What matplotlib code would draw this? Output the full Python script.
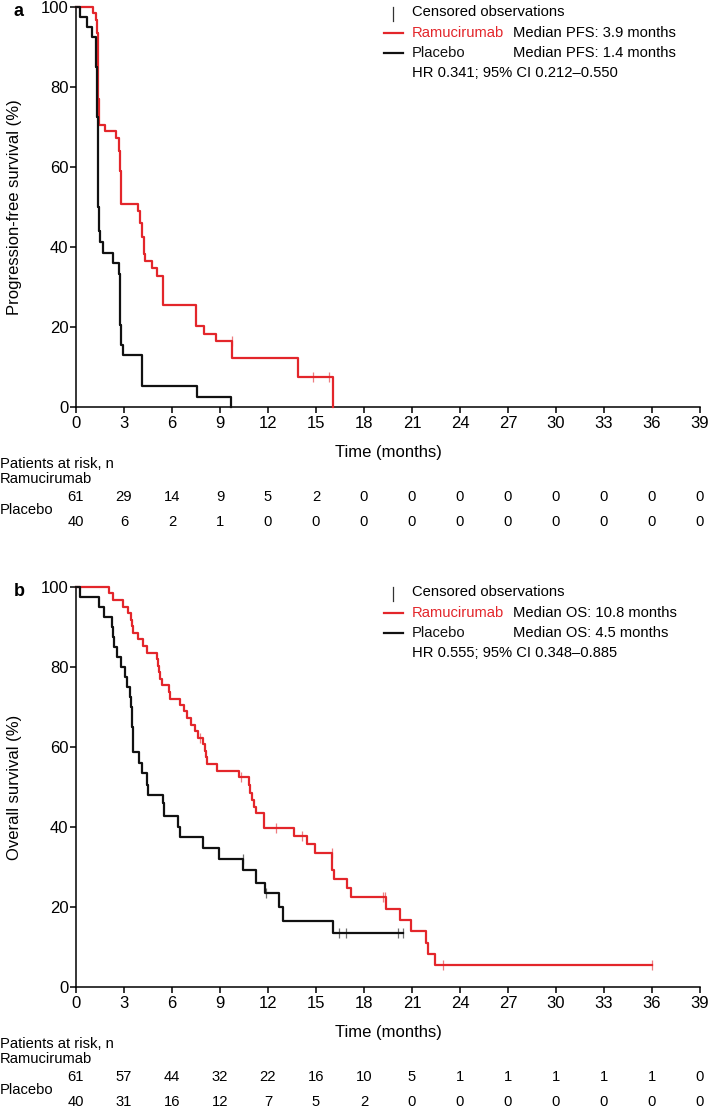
import matplotlib
matplotlib.use("Agg")
import matplotlib.pyplot as plt
from matplotlib.lines import Line2D

plt.rcParams["font.family"] = ["Liberation Sans", "DejaVu Sans"]

RED = "#e3262b"
BLACK = "#111111"

# ---- panel a: progression-free survival ----
pfs_ram_t = [0, 1.04, 1.26, 1.3, 1.35, 1.4, 1.45, 1.84, 2.51, 2.68, 2.74, 2.79, 3.87, 4.0, 4.13,
             4.23, 4.33, 4.77, 5.06, 5.44, 7.53, 7.99, 8.72, 9.78, 13.86, 16.05]
pfs_ram_s = [100, 98.4, 96.7, 93.4, 85.2, 77.0, 70.5, 68.9, 67.2, 63.9, 59.0, 50.8, 49.0, 45.9, 42.6,
             38.2, 36.5, 34.8, 32.8, 25.6, 20.2, 18.3, 16.4, 12.3, 7.4, 0]
pfs_ram_cens_t = [9.72, 14.84, 15.82]
pfs_ram_cens_s = [16.4, 7.4, 7.4]

pfs_pla_t = [0, 0.25, 0.7, 0.97, 1.22, 1.28, 1.31, 1.33, 1.35, 1.37, 1.39, 1.41, 1.5, 1.7, 2.31,
             2.66, 2.72, 2.78, 2.83, 2.93, 4.1, 7.59, 9.68]
pfs_pla_s = [100, 97.5, 95, 92.5, 90, 85, 80, 72.5, 65, 57.5, 50, 44.1, 41.3, 38.6, 36.0,
             33.3, 28, 20.5, 15.6, 13.0, 5.2, 2.6, 0]

# ---- panel b: overall survival ----
os_ram_t = [0, 2.08, 2.33, 2.92, 3.23, 3.42, 3.48, 3.58, 3.9, 4.17, 4.42, 5.08, 5.12, 5.17, 5.25,
            5.35, 5.79, 5.9, 6.52, 6.73, 6.94, 7.2, 7.44, 7.65, 7.96, 8.06, 8.1, 8.21, 8.83, 10.21,
            10.8, 10.85, 10.98, 11.13, 11.25, 11.77, 13.63, 14.46, 14.94, 15.98, 16.03, 16.15, 16.92,
            17.2, 19.35, 20.25, 20.92, 21.9, 21.98, 22.46, 36.0]
os_ram_s = [100, 98.4, 96.7, 95.1, 93.4, 91.8, 90.2, 88.5, 86.9, 85.2, 83.6, 82.0, 80.3, 78.7, 77.0,
            75.4, 73.8, 72.1, 70.5, 68.9, 67.2, 65.6, 63.9, 62.3, 60.7, 59.0, 57.4, 55.7, 54.1, 52.4,
            50.4, 48.4, 46.7, 45.1, 43.4, 39.7, 37.8, 35.7, 33.6, 31.6, 29.3, 26.9, 24.7,
            22.4, 19.6, 16.8, 13.9, 11.1, 8.3, 5.5, 5.5]
os_ram_cens_t = [7.75, 10.29, 12.5, 14.1, 15.98, 19.2, 19.3, 22.92, 36.0]
os_ram_cens_s = [62.3, 52.4, 39.7, 37.8, 33.6, 22.4, 22.4, 5.5, 5.5]

os_pla_t = [0, 0.25, 1.44, 1.77, 2.23, 2.33, 2.4, 2.54, 2.79, 3.06, 3.17, 3.375, 3.44, 3.47, 3.5,
            3.55, 3.58, 3.96, 4.15, 4.42, 4.5, 5.42, 5.52, 6.4, 6.5, 7.96, 8.96, 10.45, 11.25,
            11.81, 12.71, 12.92, 16.04, 20.46]
os_pla_s = [100, 97.5, 95, 92.5, 90, 87.5, 85, 82.5, 80, 77.5, 75, 72.5, 70, 67.5, 65,
            62.5, 58.8, 55.9, 53.4, 50.5, 48.0, 45.9, 42.75, 40.1, 37.4, 34.7, 31.9, 29.25, 26.1,
            23.4, 20.1, 16.6, 13.4, 13.4]
os_pla_cens_t = [10.42, 11.9, 16.46, 16.9, 20.1, 20.46]
os_pla_cens_s = [31.9, 23.4, 13.4, 13.4, 13.4, 13.4]

x_ticks = list(range(0, 40, 3))
pfs_risk_ram = [61, 29, 14, 9, 5, 2, 0, 0, 0, 0, 0, 0, 0, 0]
pfs_risk_pla = [40, 6, 2, 1, 0, 0, 0, 0, 0, 0, 0, 0, 0, 0]
os_risk_ram = [61, 57, 44, 32, 22, 16, 10, 5, 1, 1, 1, 1, 1, 0]
os_risk_pla = [40, 31, 16, 12, 7, 5, 2, 0, 0, 0, 0, 0, 0, 0]

W, H = 709, 1110
fig = plt.figure(figsize=(W / 100, H / 100), dpi=100)

AX_FS = 12
SMALL_FS = 10.6


def fx(px):
    return px / W


def fy(py):
    return 1 - py / H


def pt(px):
    return px * 0.72


def draw_panel(top, letter, ylabel, curves, risk_ram, risk_pla, endpoint, medians, hr):
    bottom = top + 400
    ax = fig.add_axes([fx(76), fy(bottom), fx(700) - fx(76), (bottom - top) / H])
    for t, s, ct, cs, col in curves:
        ax.step(t, s, where="post", color=col, lw=1.6, clip_on=False, zorder=3)
        ax.plot(ct, cs, ls="none", marker="|", ms=7, mew=0.9, color=col, alpha=0.6,
                clip_on=False, zorder=4)
    ax.set_xlim(0, 39)
    ax.set_ylim(0, 100)
    ax.set_xticks(x_ticks)
    ax.set_yticks(range(0, 101, 20))
    for side in ("top", "right"):
        ax.spines[side].set_visible(False)
    for side in ("left", "bottom"):
        ax.spines[side].set_linewidth(1.1)
    ax.tick_params(direction="out", length=4, width=1.1, labelsize=AX_FS)
    ax.tick_params(axis="x", pad=2.5)
    ax.tick_params(axis="y", pad=1.5)
    ax.set_ylabel(ylabel, fontsize=AX_FS)
    ax.yaxis.set_label_coords(-54 / 624, 0.5)

    tr = ("data", "axes fraction")
    ax.annotate("Time (months)", xy=(19.5, 0), xycoords=tr, xytext=(0, -pt(45)),
                textcoords="offset points", ha="center", va="center", fontsize=AX_FS)
    for x, a, b in zip(x_ticks, risk_ram, risk_pla):
        ax.annotate(str(a), xy=(x, 0), xycoords=tr, xytext=(0, -pt(90)),
                    textcoords="offset points", ha="center", va="center", fontsize=SMALL_FS)
        ax.annotate(str(b), xy=(x, 0), xycoords=tr, xytext=(0, -pt(115)),
                    textcoords="offset points", ha="center", va="center", fontsize=SMALL_FS)
    fig.text(fx(0), fy(bottom + 57), "Patients at risk, n", ha="left", va="center",
             fontsize=SMALL_FS)
    fig.text(fx(0), fy(bottom + 72), "Ramucirumab", ha="left", va="center", fontsize=SMALL_FS)
    fig.text(fx(0), fy(bottom + 103), "Placebo", ha="left", va="center", fontsize=SMALL_FS)

    fig.text(fx(14), fy(top + 9), letter, ha="left", va="baseline", fontsize=13,
             fontweight="bold")

    # legend block
    fig.add_artist(Line2D([fx(393), fx(393)], [fy(top), fy(top + 14)], color="#333333",
                          lw=0.9, transform=fig.transFigure))
    fig.text(fx(412), fy(top + 5), "Censored observations", ha="left", va="center",
             fontsize=SMALL_FS)
    rows = [("Ramucirumab", RED, medians[0], top + 26), ("Placebo", BLACK, medians[1], top + 46)]
    for name, col, med, yy in rows:
        fig.add_artist(Line2D([fx(384), fx(403)], [fy(yy), fy(yy)], color=col, lw=1.6,
                              transform=fig.transFigure))
        fig.text(fx(412), fy(yy), name, color=col, ha="left", va="center", fontsize=SMALL_FS)
        fig.text(fx(513), fy(yy), f"Median {endpoint}: {med} months", ha="left", va="center",
                 fontsize=SMALL_FS)
    fig.text(fx(412), fy(top + 66), hr, ha="left", va="center", fontsize=SMALL_FS)
    return ax


draw_panel(7, "a", "Progression-free survival (%)",
           [(pfs_ram_t, pfs_ram_s, pfs_ram_cens_t, pfs_ram_cens_s, RED),
            (pfs_pla_t, pfs_pla_s, [], [], BLACK)],
           pfs_risk_ram, pfs_risk_pla, "PFS", ("3.9", "1.4"),
           "HR 0.341; 95% CI 0.212\u20130.550")

draw_panel(587, "b", "Overall survival (%)",
           [(os_ram_t, os_ram_s, os_ram_cens_t, os_ram_cens_s, RED),
            (os_pla_t, os_pla_s, os_pla_cens_t, os_pla_cens_s, BLACK)],
           os_risk_ram, os_risk_pla, "OS", ("10.8", "4.5"),
           "HR 0.555; 95% CI 0.348\u20130.885")

fig.savefig("out.png", dpi=100)
